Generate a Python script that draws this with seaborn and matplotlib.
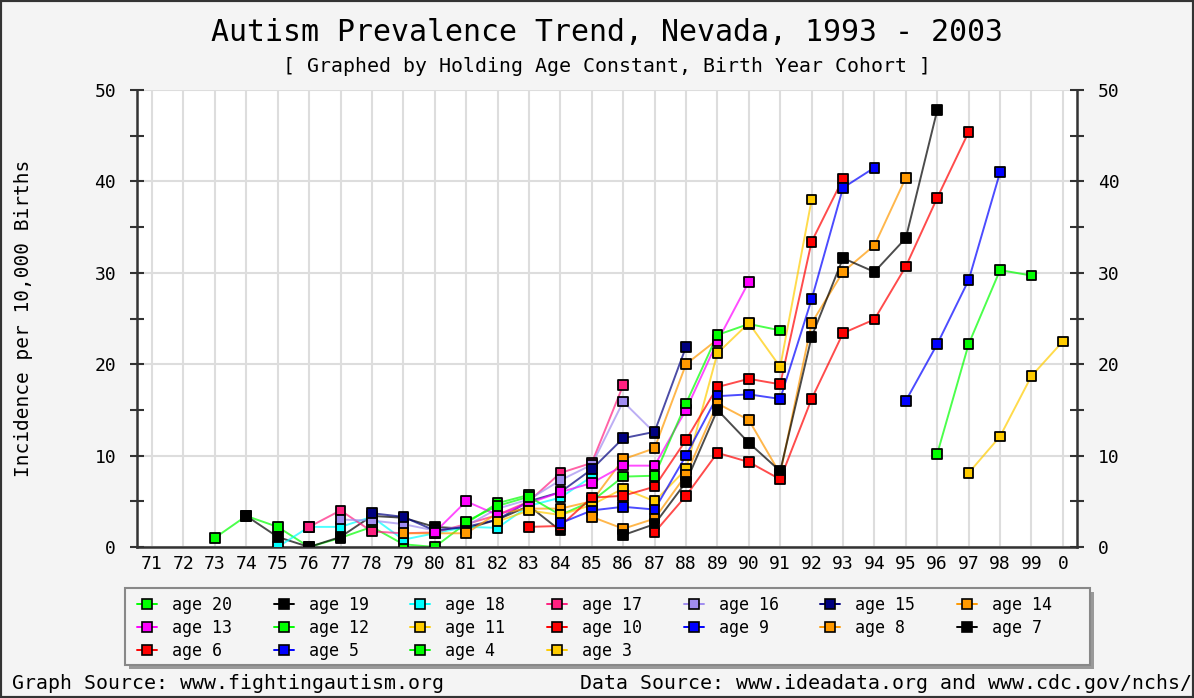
import numpy as np
import pandas as pd
import matplotlib
matplotlib.use("Agg")
import matplotlib.pyplot as plt
from matplotlib.lines import Line2D
from matplotlib.patches import Rectangle
import seaborn as sns

# birth year cohorts on the x axis
birth_years = ["71", "72", "73", "74", "75", "76", "77", "78", "79", "80",
               "81", "82", "83", "84", "85", "86", "87", "88", "89", "90",
               "91", "92", "93", "94", "95", "96", "97", "98", "99", "0"]

ages = [20, 19, 18, 17, 16, 15, 14, 13, 12, 11, 10, 9, 8, 7, 6, 5, 4, 3]
# birth year of the first point of each age series
first_year = ["73", "74", "75", "76", "77", "78", "79", "80", "81", "82",
              "83", "84", "85", "86", "87", "95", "96", "97"]

# incidence per 10,000 births
age20 = [1.0, 3.4, 2.2, 0.0, 1.0, 2.2, 0.3, 0.0, 2.6, 4.8, 5.7]
age19 = [3.4, 1.1, 0.0, 1.1, 3.4, 3.2, 2.2, 2.0, 3.0, 4.5, 1.8]
age18 = [0.0, 2.2, 2.2, 3.3, 0.8, 1.5, 2.2, 2.1, 4.5, 5.4, 7.7]
age17 = [2.2, 4.0, 1.7, 1.5, 1.6, 2.5, 3.5, 5.0, 8.1, 9.2, 17.7]
age16 = [3.0, 2.9, 2.5, 1.8, 2.3, 4.2, 5.2, 7.3, 9.0, 15.9, 12.5]
age15 = [3.7, 3.3, 1.8, 2.2, 3.0, 5.0, 6.0, 8.5, 11.9, 12.6, 21.9]
age14 = [1.5, 1.5, 1.5, 3.7, 4.2, 4.2, 5.0, 9.6, 10.8, 20.0, 22.7]
age13 = [1.6, 5.0, 3.5, 4.8, 6.0, 7.0, 8.9, 8.9, 15.0, 22.5, 29.0]
age12 = [2.8, 4.5, 5.5, 3.5, 5.0, 7.7, 7.8, 15.7, 23.2, 24.4, 23.7]
age11 = [2.8, 4.0, 3.5, 4.6, 6.4, 5.0, 8.5, 21.2, 24.5, 19.7, 38.0]
age10 = [2.2, 2.3, 5.4, 5.6, 6.6, 11.7, 17.5, 18.4, 17.8, 33.4, 40.3]
age9 = [2.6, 4.0, 4.4, 4.1, 10.0, 16.5, 16.7, 16.2, 27.1, 39.3, 41.5]
age8 = [3.3, 2.0, 3.1, 7.9, 15.7, 13.9, 8.0, 24.5, 30.1, 33.0, 40.4]
age7 = [1.3, 2.5, 7.1, 15.0, 11.4, 8.3, 23.0, 31.6, 30.1, 33.8, 47.8]
age6 = [1.6, 5.6, 10.3, 9.3, 7.4, 16.2, 23.4, 24.9, 30.7, 38.2, 45.4]
age5 = [16.0, 22.2, 29.2, 41.0]
age4 = [10.2, 22.2, 30.3, 29.7]
age3 = [8.1, 12.1, 18.7, 22.5]

values = [age20, age19, age18, age17, age16, age15, age14, age13, age12,
          age11, age10, age9, age8, age7, age6, age5, age4, age3]

colors = ["#00ff00", "#000000", "#00ffff", "#ff2080", "#a08cf0", "#000080",
          "#ff9900", "#ff00ff", "#00ff00", "#ffcc00", "#ff0000", "#0000ff",
          "#ff9900", "#000000", "#ff0000", "#0000ff", "#00ff00", "#ffcc00"]

# long table for seaborn
rows = []
for age, start, vals in zip(ages, first_year, values):
    i0 = birth_years.index(start)
    for k, v in enumerate(vals):
        rows.append({"series": f"age {age}", "pos": i0 + k, "value": v})
df = pd.DataFrame(rows)
names = [f"age {a}" for a in ages]
pal = dict(zip(names, colors))

sns.set_style("white")
plt.rcParams["font.family"] = ["DejaVu Sans Mono"]
plt.rcParams["text.color"] = "black"
plt.rcParams["axes.labelcolor"] = "black"
plt.rcParams["xtick.labelcolor"] = "black"
plt.rcParams["ytick.labelcolor"] = "black"

fig = plt.figure(figsize=(11.94, 6.98), dpi=100)
fig.patch.set_facecolor("#f4f4f4")
ax = fig.add_axes([137 / 1194, 1 - 547 / 698, 940 / 1194, 457 / 698])
ax.set_facecolor("white")

sns.lineplot(data=df, x="pos", y="value", hue="series", hue_order=names,
             palette=pal, estimator=None, linewidth=1.4, alpha=0.7,
             legend=False, ax=ax)
sns.scatterplot(data=df, x="pos", y="value", hue="series", hue_order=names,
                palette=pal, marker="s", s=48, edgecolor="black",
                linewidth=1.3, legend=False, ax=ax, zorder=5)

ax.set_xlim(-0.48, 29.45)
ax.set_ylim(0, 50)
ax.set_xticks(range(len(birth_years)))
ax.set_xticklabels(birth_years)
ax.set_yticks(range(0, 51, 10))
ax.set_yticks(range(5, 50, 10), minor=True)
ax.grid(True, which="major", color="#dddddd", linewidth=1.5)
ax.set_axisbelow(True)
ax.set_xlabel("")
ax.set_ylabel("Incidence per 10,000 Births", fontsize=14, labelpad=44)

ax.tick_params(axis="x", direction="in", length=6, width=1.5,
               color="#333333", labelsize=13, pad=6)
ax.tick_params(axis="y", which="both", direction="inout", length=10,
               width=1.5, color="#333333", labelsize=13,
               left=True, right=True, labelleft=True, labelright=True, pad=10)
for s in ["left", "right", "bottom"]:
    ax.spines[s].set_color("#333333")
    ax.spines[s].set_linewidth(1.8)
ax.spines["top"].set_visible(False)

fig.text(0.508, 0.954, "Autism Prevalence Trend, Nevada, 1993 - 2003",
         ha="center", va="center", fontsize=21.5)
fig.text(0.508, 0.905, "[ Graphed by Holding Age Constant, Birth Year Cohort ]",
         ha="center", va="center", fontsize=14.3)
fig.text(0.01, 0.021, "Graph Source: www.fightingautism.org",
         ha="left", va="center", fontsize=14.3)
fig.text(0.486, 0.021, "Data Source: www.ideadata.org and www.cdc.gov/nchs/",
         ha="left", va="center", fontsize=14.3)

# legend box with drop shadow
box = (125 / 1194, 1 - 665 / 698, 965 / 1194, 77 / 698)
fig.add_artist(Rectangle((box[0] + 4 / 1194, box[1] - 4 / 698), box[2], box[3],
                         transform=fig.transFigure, facecolor="#999999",
                         edgecolor="none", zorder=1))
fig.add_artist(Rectangle(box[:2], box[2], box[3], transform=fig.transFigure,
                         facecolor="#f4f4f4", edgecolor="#888888",
                         linewidth=1.5, zorder=2))

# legend, filled row by row
handles = [Line2D([], [], color=c, lw=1.4, marker="s", markersize=7,
                  markerfacecolor=c, markeredgecolor="black",
                  markeredgewidth=1.2) for c in colors]
order = [r * 7 + c for c in range(7) for r in range(3) if r * 7 + c < 18]
leg = fig.legend([handles[i] for i in order], [names[i] for i in order],
                 loc="upper left", bbox_to_anchor=(137 / 1194, 1 - 596 / 698),
                 ncol=7, fontsize=12, handlelength=1.2, handletextpad=0.9,
                 columnspacing=2.5, labelspacing=0.31, frameon=False,
                 borderpad=0, borderaxespad=0)
leg.set_zorder(3)

fig.add_artist(Rectangle((0, 0), 1, 1, transform=fig.transFigure,
                         fill=False, edgecolor="#333333", linewidth=3))

fig.savefig("out.png", dpi=100, facecolor=fig.get_facecolor())
